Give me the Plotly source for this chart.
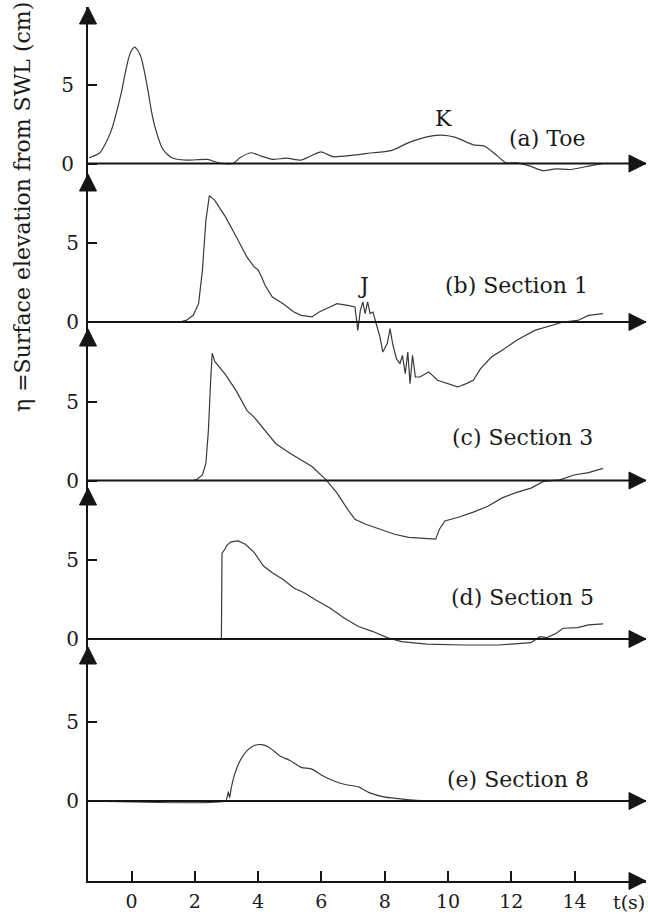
import plotly.graph_objects as go

# ---------------- data ----------------
t_a = [-1.34, -1.0, -0.66, -0.32, -0.2, -0.09, 0.0, 0.10, 0.2, 0.31, 0.42, 0.53, 0.64, 0.76, 0.99,
       1.27, 1.73, 2.4, 2.75, 3.2, 3.43, 3.77, 4.1, 4.45, 4.9, 5.36, 5.7, 5.98, 6.38, 6.95,
       7.63, 8.2, 8.76, 9.33, 9.78, 10.24, 10.8, 11.15, 11.5, 11.83, 12.17, 12.6, 13.0, 13.4,
       13.87, 14.44, 14.9]
eta_a = [0.36, 0.68, 1.97, 4.5, 5.7, 6.67, 7.15, 7.37, 7.15, 6.67, 5.7, 4.5, 3.2, 2.18, 0.9,
         0.36, 0.21, 0.26, 0.04, 0.0, 0.36, 0.68, 0.47, 0.26, 0.34, 0.21, 0.51, 0.73, 0.43, 0.51,
         0.68, 0.81, 1.32, 1.69, 1.79, 1.65, 1.18, 1.11, 0.58, 0.04, 0.04, -0.17, -0.45, -0.34,
         -0.38, -0.17, 0.0]

t_b = [-1.34, 1.5, 1.73, 1.95, 2.12, 2.24, 2.35, 2.46, 2.63, 2.97, 3.31, 3.65, 3.88, 4.0, 4.1,
       4.22, 4.45, 4.79, 5.13, 5.36, 5.7, 5.93, 6.27, 6.49, 6.83, 7.06, 7.15, 7.23, 7.31, 7.38,
       7.46, 7.54, 7.63, 7.74, 7.85, 7.94, 8.08, 8.17, 8.25, 8.37, 8.48, 8.56, 8.65, 8.73, 8.8,
       8.88, 8.97, 9.11, 9.39, 9.67, 10.01, 10.3, 10.58, 10.8, 11.03, 11.37, 11.71, 12.17,
       12.74, 13.3, 13.64, 14.1, 14.44, 14.9]
eta_b = [0.0, 0.0, 0.1, 0.42, 1.16, 3.27, 6.43, 8.0, 7.7, 6.65, 5.4, 4.1, 3.48, 3.3, 2.9,
         2.32, 1.58, 1.16, 0.63, 0.42, 0.32, 0.63, 0.95, 1.16, 1.05, 0.95, -0.53, 0.74, 1.27, 0.53,
         1.27, 0.53, 0.63, -0.1, -0.95, -1.9, -1.37, -0.42, -1.37, -2.32, -2.64, -2.11, -3.27, -1.9, -3.9,
         -2.11, -3.48, -3.48, -3.16, -3.69, -3.9, -4.11, -3.9, -3.69, -2.95, -2.22, -1.79, -1.16,
         -0.53, -0.21, 0.0, 0.1, 0.42, 0.53]

t_c = [-1.34, 1.95, 2.07, 2.24, 2.35, 2.43, 2.5, 2.55, 2.63, 2.97, 3.31, 3.65, 3.88, 4.22, 4.56,
       5.02, 5.36, 5.7, 6.15, 6.49, 6.83, 7.06, 7.4, 7.85, 8.31, 8.76, 9.22, 9.61, 9.73, 9.9,
       10.35, 10.8, 11.26, 11.71, 12.17, 12.62, 13.02, 13.53, 13.98, 14.44, 14.9]
eta_c = [0.0, 0.0, 0.08, 0.35, 1.08, 3.17, 6.3, 8.06, 7.54, 6.7, 5.67, 4.42, 4.0, 3.17, 2.33,
         1.71, 1.29, 0.88, 0.04, -0.79, -1.83, -2.46, -2.77, -3.08, -3.4, -3.6, -3.67, -3.71, -3.08, -2.56,
         -2.31, -2.0, -1.63, -1.1, -0.75, -0.48, -0.06, 0.04, 0.35, 0.5, 0.77]

t_d = [-1.34, 2.84, 2.86, 2.95, 3.0, 3.14, 3.37, 3.6, 3.88, 4.17, 4.45, 4.79, 5.13, 5.47, 5.81,
       6.27, 6.73, 7.17, 7.63, 8.08, 8.53, 9.33, 10.47, 11.6, 12.62, 12.9, 13.13, 13.42, 13.64,
       14.1, 14.44, 14.9]
eta_d = [0.0, 0.0, 5.43, 5.68, 5.9, 6.15, 6.21, 6.0, 5.47, 4.62, 4.19, 3.77, 3.23, 2.91, 2.49,
         1.96, 1.32, 0.79, 0.47, 0.09, -0.17, -0.32, -0.38, -0.38, -0.23, 0.15, 0.09, 0.36, 0.68,
         0.72, 0.89, 0.96]

t_e = [-1.34, 2.97, 3.02, 3.06, 3.1, 3.15, 3.26, 3.43, 3.65, 3.88, 4.11, 4.34, 4.68, 5.02, 5.36,
       5.7, 6.04, 6.38, 6.72, 7.17, 7.51, 7.97, 8.43, 9.0, 10.0, 14.9]
eta_e = [0.0, 0.0, 0.21, 0.6, 0.2, 0.8, 1.7, 2.55, 3.19, 3.51, 3.57, 3.4, 2.87, 2.55, 2.13,
         2.02, 1.6, 1.28, 1.06, 0.89, 0.53, 0.26, 0.15, 0.04, 0.02, 0.0]

panel_labels = ["(a) Toe", "(b) Section 1", "(c) Section 3", "(d) Section 5", "(e) Section 8"]
label_t = [13.13, 12.15, 12.34, 12.34, 12.2]
label_eta = [1.6, 2.34, 2.75, 2.6, 1.39]
marks = [("K", 0, 9.87, 2.87), ("J", 1, 7.32, 2.34)]
x_ticks = [0, 2, 4, 6, 8, 10, 12, 14]
y_ticks = [0, 5]
y_title = "η =Surface elevation from SWL (cm)"
x_title = "t(s)"

# ---------------- layout geometry ----------------
W, H = 648, 918
L, R, T, B = 88, 2, 7, 37
PW, PH = W - L - R, H - T - B
X0_PX, PX_PER_S = 131.5, 31.65
PX_PER_CM = 15.8
base_px = [163.5, 322, 480.5, 639, 801]
arrow_tip_px = [7, 174, 329, 488, 647]
FONT = "DejaVu Serif"
AX = "#151515"
LINE = "#3a3a3a"
TXT = "#1a1a1a"

x_range = [(L - X0_PX) / PX_PER_S, (W - R - X0_PX) / PX_PER_S]


def px_x(px):
    return (px - L) / PW


def px_y(py):
    return (H - B - py) / PH


series = [(t_a, eta_a), (t_b, eta_b), (t_c, eta_c), (t_d, eta_d), (t_e, eta_e)]
line_shapes = ["spline", "linear", "linear", "linear", "spline"]

fig = go.Figure()
for k, (tt, ee) in enumerate(series):
    yref = "y" if k == 0 else f"y{k+1}"
    ln = dict(color=LINE, width=1.2, shape=line_shapes[k])
    if line_shapes[k] == "spline":
        ln["smoothing"] = 0.6
    fig.add_trace(go.Scatter(x=tt, y=ee, mode="lines", yaxis=yref, line=ln,
                             showlegend=False, hoverinfo="skip"))

layout = dict(
    width=W, height=H, margin=dict(l=L, r=R, t=T, b=B, autoexpand=False),
    paper_bgcolor="white", plot_bgcolor="white", showlegend=False,
    font=dict(family=FONT, color=TXT, size=20),
    xaxis=dict(range=x_range, showgrid=False, zeroline=False, showline=True,
               linecolor=AX, linewidth=2, ticks="inside", ticklen=10, tickwidth=1.5,
               tickcolor=AX, tickvals=x_ticks, tickfont=dict(family=FONT, size=19, color=TXT),
               ticklabelstandoff=2, automargin=False),
)
for k in range(5):
    hi = (base_px[k] - T) / PX_PER_CM
    lo = hi - PH / PX_PER_CM
    ax = dict(range=[lo, hi], showgrid=False, zeroline=False, ticks="inside", ticklen=9,
              tickwidth=1.5, tickcolor=AX, tickvals=y_ticks,
              tickfont=dict(family=FONT, size=20, color=TXT), ticklabelstandoff=8,
              automargin=False, anchor="x", side="left")
    if k == 0:
        ax.update(showline=True, linecolor=AX, linewidth=2)
        layout["yaxis"] = ax
    else:
        ax.update(showline=False, overlaying="y")
        layout[f"yaxis{k+1}"] = ax
fig.update_layout(**layout)

shapes = []
for k in range(5):
    yref = "y" if k == 0 else f"y{k+1}"
    shapes.append(dict(type="line", xref="paper", yref=yref, x0=0, x1=1, y0=0, y1=0,
                       line=dict(color=AX, width=2)))

AL, AHW = 17, 8.5


def tri_up(tip_py):
    return (f"M {px_x(L)},{px_y(tip_py)} L {px_x(L - AHW)},{px_y(tip_py + AL)} "
            f"L {px_x(L + AHW)},{px_y(tip_py + AL)} Z")


def tri_right(py):
    tip = W - R
    return (f"M {px_x(tip)},{px_y(py)} L {px_x(tip - AL)},{px_y(py - AHW)} "
            f"L {px_x(tip - AL)},{px_y(py + AHW)} Z")


for tp in arrow_tip_px:
    shapes.append(dict(type="path", xref="paper", yref="paper", path=tri_up(tp),
                       fillcolor=AX, line=dict(color=AX, width=1)))
for bp in base_px + [H - B]:
    shapes.append(dict(type="path", xref="paper", yref="paper", path=tri_right(bp),
                       fillcolor=AX, line=dict(color=AX, width=1)))
fig.update_layout(shapes=shapes)

ann = []
for k in range(5):
    yref = "y" if k == 0 else f"y{k+1}"
    ann.append(dict(x=label_t[k], y=label_eta[k], xref="x", yref=yref, text=panel_labels[k],
                    showarrow=False, font=dict(family=FONT, size=22, color=TXT),
                    xanchor="center", yanchor="middle"))
for txt, k, tx, ty in marks:
    yref = "y" if k == 0 else f"y{k+1}"
    ann.append(dict(x=tx, y=ty, xref="x", yref=yref, text=txt, showarrow=False,
                    font=dict(family=FONT, size=22, color=TXT),
                    xanchor="center", yanchor="middle"))
ann.append(dict(x=px_x(22), y=px_y(207), xref="paper", yref="paper", text=y_title,
                textangle=-90, showarrow=False, font=dict(family=FONT, size=22, color=TXT),
                xanchor="center", yanchor="middle"))
ann.append(dict(x=px_x(629), y=px_y(902), xref="paper", yref="paper", text=x_title,
                showarrow=False, font=dict(family=FONT, size=19, color=TXT),
                xanchor="center", yanchor="middle"))
fig.update_layout(annotations=ann)

fig.write_html("out.html", config={"displayModeBar": False},
               post_script="document.body.style.margin='0px';document.body.style.overflow='hidden';")
